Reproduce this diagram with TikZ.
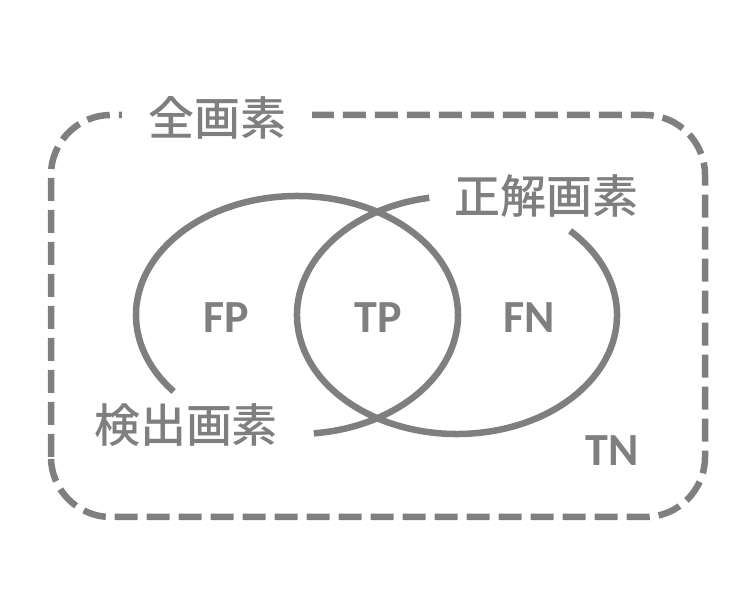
\documentclass[tikz,border=0pt]{standalone}
\usepackage{fontspec}
\setmainfont{Carlito}
\newfontfamily\jpfont{Noto Sans CJK JP Medium}
\definecolor{venngray}{RGB}{127,127,127}
\tikzset{
    setline/.style={draw=venngray,line width=6.5pt},
    jplabel/.style={text=venngray,font=\jpfont\fontsize{46}{50}\selectfont,inner sep=0pt},
    cell/.style={text=venngray,font=\bfseries\fontsize{46}{50}\selectfont,inner sep=0pt}
}

\begin{document}
\begin{tikzpicture}[x=1pt,y=1pt]
        \useasboundingbox (0,0) rectangle (756,605);
        \draw[venngray,line width=6.5pt,dash pattern=on 23pt off 9pt,rounded corners=60pt] (51,88) rectangle (705,490);
        \node[jplabel,fill=white,inner xsep=26pt,inner ysep=4pt] (all) at (217,487) {全画素};
        \path[setline] (297,290) ++(-84:161 and 119) arc[start angle=-84,end angle=220,x radius=161,y radius=119];
        \path[setline] (457,290) ++(100:160 and 119) arc[start angle=100,end angle=405,x radius=160,y radius=119];
        \node[jplabel] (truth) at (546,409) {正解画素};
        \node[jplabel] (detect) at (186,180) {検出画素};
        \node[cell] (fp) at (226,287) {FP};
        \node[cell] (tp) at (378,287) {TP};
        \node[cell] (fn) at (529,287) {FN};
        \node[cell] (tn) at (612,154) {TN};
    \end{tikzpicture}
\end{document}
